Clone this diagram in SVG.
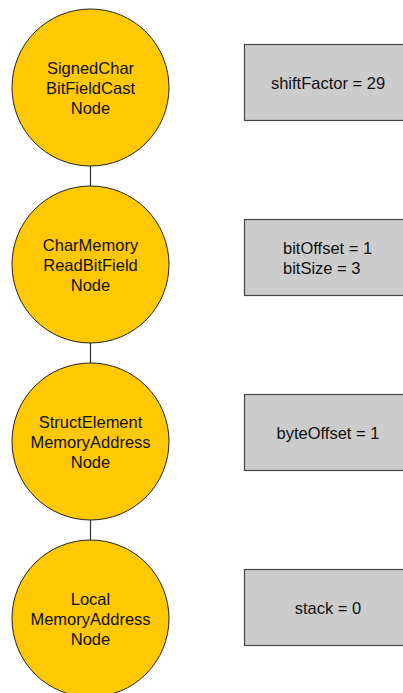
<svg xmlns="http://www.w3.org/2000/svg" width="403" height="693" viewBox="0 0 403 693">
  <style>
    .node circle { fill: #ffc800; stroke: #222; stroke-width: 1; }
    .box rect { fill: #cccccc; stroke: #444; stroke-width: 1.2; }
    text { font-family: "Liberation Sans", Arial, sans-serif; font-size: 16.5px; fill: #111; }
    .c { text-anchor: middle; }
    .edges line { stroke: #333; stroke-width: 1.2; }
  </style>
  <rect width="403" height="693" fill="#ffffff"/>

  <!-- connectors between the stacked nodes -->
  <g id="edges" class="edges">
    <line x1="90.5" y1="166" x2="90.5" y2="186"/>
    <line x1="90.5" y1="343" x2="90.5" y2="363"/>
    <line x1="90.5" y1="520" x2="90.5" y2="540"/>
  </g>

  <g id="signedCharBitFieldCast" class="node">
    <circle cx="90.5" cy="87.5" r="78.5"/>
    <text class="c" x="90.5" y="74.3">SignedChar</text>
    <text class="c" x="90.5" y="94.3">BitFieldCast</text>
    <text class="c" x="90.5" y="114.3">Node</text>
  </g>
  <g id="charMemoryReadBitField" class="node">
    <circle cx="90.5" cy="264.5" r="78.5"/>
    <text class="c" x="90.5" y="251.3">CharMemory</text>
    <text class="c" x="90.5" y="271.3">ReadBitField</text>
    <text class="c" x="90.5" y="291.3">Node</text>
  </g>
  <g id="structElementMemoryAddress" class="node">
    <circle cx="90.5" cy="441.5" r="78.5"/>
    <text class="c" x="90.5" y="428.3">StructElement</text>
    <text class="c" x="90.5" y="448.3">MemoryAddress</text>
    <text class="c" x="90.5" y="468.3">Node</text>
  </g>
  <g id="localMemoryAddress" class="node">
    <circle cx="90.5" cy="618.5" r="78.5"/>
    <text class="c" x="90.5" y="605.3">Local</text>
    <text class="c" x="90.5" y="625.3">MemoryAddress</text>
    <text class="c" x="90.5" y="645.3">Node</text>
  </g>

  <!-- attribute boxes -->
  <g id="attrShiftFactor" class="box">
    <rect x="244.5" y="44.5" width="168" height="76"/>
    <text class="c" x="328" y="88.5">shiftFactor = 29</text>
  </g>
  <g id="attrBitField" class="box">
    <rect x="244.5" y="219.5" width="168" height="76"/>
    <text x="283" y="253.8">bitOffset = 1</text>
    <text x="283" y="273.8">bitSize = 3</text>
  </g>
  <g id="attrByteOffset" class="box">
    <rect x="244.5" y="394.5" width="168" height="76"/>
    <text class="c" x="328" y="438.5">byteOffset = 1</text>
  </g>
  <g id="attrStack" class="box">
    <rect x="244.5" y="569.5" width="168" height="76"/>
    <text class="c" x="328" y="613.5">stack = 0</text>
  </g>
</svg>
